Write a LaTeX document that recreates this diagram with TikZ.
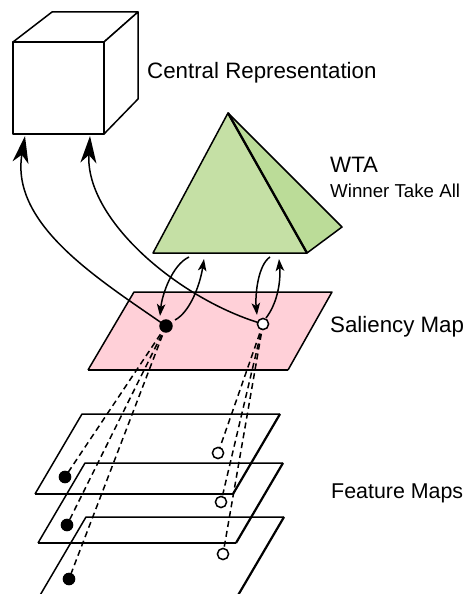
\documentclass[tikz,border=0pt]{standalone}
\usepackage{fontspec}
\setmainfont{Liberation Sans}
\usetikzlibrary{arrows.meta}
\definecolor{pyrfront}{RGB}{197,224,165}
\definecolor{pyrside}{RGB}{187,220,152}
\definecolor{salpink}{RGB}{255,208,216}
\begin{document}
\begin{tikzpicture}[x=1pt,y=-1pt,line join=round,
  edge/.style={line width=1.5pt},
  thickedge/.style={line width=2.6pt},
  bigarrow/.style={line width=1.5pt,-{Stealth[length=27pt,width=16pt,inset=8pt]}},
  smallarrow/.style={line width=1.5pt,-{Stealth[length=12pt,width=8.5pt,inset=3pt]}},
  dashline/.style={line width=1.5pt,dash pattern=on 6pt off 4pt},
  fdot/.style={fill=black,draw=black,line width=1pt},
  odot/.style={fill=white,draw=black,line width=1.5pt},
  lbl/.style={anchor=base west,inner sep=0pt,font=\fontsize{22.3}{26}\selectfont},
  lblsmall/.style={anchor=base west,inner sep=0pt,font=\fontsize{18.7}{22}\selectfont}]
\useasboundingbox (0,0) rectangle (467,594);

% ---- cube (central representation)
\draw[edge,fill=white] (13,42) rectangle (104,134);
\draw[edge,fill=white] (13,42) -- (52,12) -- (138,12) -- (104,42) -- cycle;
\draw[edge,fill=white] (104,42) -- (138,12) -- (138,99) -- (104,134) -- cycle;
\coordinate (cubeL) at (25,136);
\coordinate (cubeR) at (90,136);

% ---- pyramid (WTA)
\draw[edge,fill=pyrfront] (153,253) -- (228,113) -- (307,253) -- cycle;
\draw[edge,fill=pyrside] (228,113) -- (342,227) -- (307,253) -- cycle;
\draw[line width=2.3pt] (228,113) -- (307,253);
\coordinate (pA) at (189,257);
\coordinate (pB) at (204,259);
\coordinate (pC) at (270,257);
\coordinate (pD) at (279,259);

% ---- saliency map
\fill[salpink] (134,292) -- (332,292) -- (288,370) -- (88,370) -- cycle;
\draw[edge] (88,370) -- (134,292) -- (332,292) -- (288,370);
\draw[thickedge] (88,370) -- (288,370);
\coordinate (sF) at (166,326);
\coordinate (sO) at (263,324);
\coordinate (sFr) at (175,320);
\coordinate (sOr) at (266,318);
\coordinate (sFt) at (160,316);
\coordinate (sOt) at (257,315);

% ---- feature maps
\foreach \dx/\dy in {0/0,3/49,4/103}{
  \begin{scope}[shift={(\dx,\dy)}]
    \draw[edge] (35,494) -- (82,414) -- (280,414);
    \draw[line width=2.2pt] (280,414) -- (233,494);
    \draw[thickedge] (233,494) -- (35,494);
  \end{scope}
}
\coordinate (f1) at (65,477);
\coordinate (f2) at (67,525);
\coordinate (f3) at (69,579);
\coordinate (o1) at (218,453);
\coordinate (o2) at (221,502);
\coordinate (o3) at (223,554);

% ---- dashed projections
\foreach \t in {f1,f2,f3}{\draw[dashline] (sF) -- (\t);}
\foreach \t in {o1,o2,o3}{\draw[dashline] (sO) -- (\t);}

% ---- big arcs to cube
\draw[bigarrow] (sF) .. controls (100,280) and (10,225) .. (cubeL);
\draw[bigarrow] (sO) .. controls (180,300) and (85,220) .. (cubeR);

% ---- small arrows between saliency map and WTA
\draw[smallarrow] (pA) .. controls (172,265) and (162,295) .. (sFt);
\draw[smallarrow] (sFr) .. controls (190,312) and (200,285) .. (pB);
\draw[smallarrow] (pC) .. controls (258,265) and (255,295) .. (sOt);
\draw[smallarrow] (sOr) .. controls (276,305) and (281,285) .. (pD);

% ---- dots
\draw[fdot] (sF) circle (6.2);
\draw[odot] (sO) circle (5.6);
\foreach \t in {f1,f2,f3}{\draw[fdot] (\t) circle (5.8);}
\foreach \t in {o1,o2,o3}{\draw[odot] (\t) circle (5.6);}

% ---- labels
\node[lbl] (tcr) at (147,78) {Central Representation};
\node[lbl] (twta) at (330,172) {WTA};
\node[lblsmall] (twin) at (330,197) {Winner Take All};
\node[lbl] (tsal) at (330,332) {Saliency Map};
\node[lbl,font=\fontsize{21.4}{26}\selectfont] (tfeat) at (331,498) {Feature Maps};
\end{tikzpicture}
\end{document}
